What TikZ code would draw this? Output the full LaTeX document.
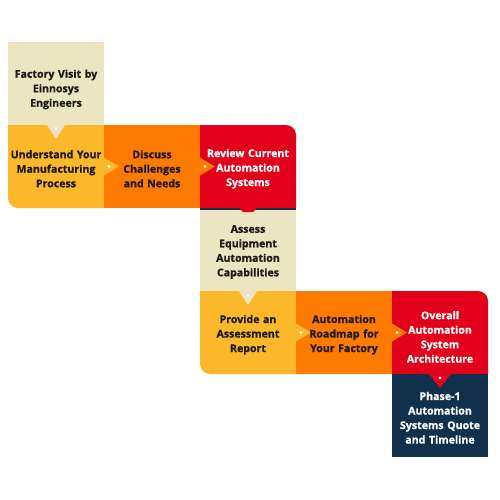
\documentclass[tikz,border=0pt]{standalone}
\usepackage{fontspec}
\setmainfont{Open Sans}[BoldFeatures={FakeBold=0.9}]
\usetikzlibrary{positioning,backgrounds,calc}

\definecolor{stepbeige}{HTML}{ECE5C1}
\definecolor{stepyellow}{HTML}{FBB82A}
\definecolor{steporange}{HTML}{FF7A00}
\definecolor{stepred}{HTML}{E3001B}
\definecolor{stepnavy}{HTML}{10304C}
\definecolor{inkdark}{HTML}{1E1A17}

\tikzset{
  sink/.style={execute at begin node={\rule{0pt}{#1}}},
  stage/.style={inner sep=0pt, outer sep=0pt, text width=95pt, align=center,
    minimum width=96pt, minimum height=83pt, text=inkdark,
    font=\fontsize{10.6}{14.5}\selectfont\bfseries, sink=12.6pt},
  lightstage/.style={stage, text=white},
}

\begin{document}
\begin{tikzpicture}[x=1pt,y=1pt,node distance=0pt]
  \useasboundingbox (0,0) rectangle (500,-500);

  \node[stage,sink=20pt] (visit) at (56,-83.5) {Factory Visit by\\Einnosys\\Engineers};
  \node[stage,below=of visit] (understand) {Understand Your\\Manufacturing\\Process};
  \node[stage,right=of understand] (discuss) {Discuss\\Challenges\\and Needs};
  \node[lightstage,right=of discuss] (review) {Review Current\\Automation\\Systems};
  \node[stage,below=of review] (assess) {Assess\\Equipment\\Automation\\Capabilities};
  \node[stage,below=of assess] (provide) {Provide an\\Assessment\\Report};
  \node[stage,right=of provide] (roadmap) {Automation\\Roadmap for\\Your Factory};
  \node[lightstage,sink=17pt,right=of roadmap] (architecture) {Overall\\Automation\\System\\Architecture};
  \node[lightstage,below=of architecture] (quote) {Phase-1\\Automation\\Systems Quote\\and Timeline};

  \begin{scope}[on background layer]
    % boxes
    \fill[stepbeige] (visit.north west) rectangle (visit.south east);
    \fill[stepyellow] (understand.north east) -- (understand.north west)
      [rounded corners=10pt] -- (understand.south west) [sharp corners]
      -- (understand.south east) -- cycle;
    \fill[steporange] (discuss.north west) rectangle (discuss.south east);
    \fill[stepred] (review.north west) -- (review.south west) -- (review.south east)
      [rounded corners=10pt] -- (review.north east) [sharp corners] -- cycle;
    \fill[stepbeige] (assess.north west) rectangle (assess.south east);
    \fill[stepnavy] (assess.north west) rectangle ($(assess.north east)+(0,-1.5)$);
    \fill[stepyellow] (provide.north east) -- (provide.north west)
      [rounded corners=10pt] -- (provide.south west) [sharp corners]
      -- (provide.south east) -- cycle;
    \fill[steporange] (roadmap.north west) rectangle (roadmap.south east);
    \fill[stepred] (architecture.north west) -- (architecture.south west)
      -- (architecture.south east) [rounded corners=10pt] -- (architecture.north east)
      [sharp corners] -- cycle;
    \fill[stepnavy] (quote.north west) rectangle (quote.south east);

    % tabs
    \fill[stepbeige] ($(visit.south)+(-9,0)$) -- ($(visit.south)+(9,0)$)
      -- ($(visit.south)+(0,-14)$) -- cycle;
    \fill[white] ($(visit.south)+(0,-4)$) circle (1.7);
    \fill[stepyellow] ($(understand.east)+(0,9)$) -- ($(understand.east)+(15,0)$)
      -- ($(understand.east)+(0,-9)$) -- cycle;
    \fill[white] ($(understand.east)+(5,0)$) circle (1.7);
    \fill[steporange] ($(discuss.east)+(0,9)$) -- ($(discuss.east)+(15,0)$)
      -- ($(discuss.east)+(0,-9)$) -- cycle;
    \fill[white] ($(discuss.east)+(5,0)$) circle (1.7);
    \fill[stepred] ($(review.south)+(-9,0)$) -- ($(review.south)+(9,0)$)
      -- ($(review.south)+(5,-4)$) -- ($(review.south)+(-5,-4)$) -- cycle;
    \fill[stepbeige] ($(assess.south)+(-9,0)$) -- ($(assess.south)+(9,0)$)
      -- ($(assess.south)+(0,-14)$) -- cycle;
    \fill[white] ($(assess.south)+(0,-4)$) circle (1.7);
    \fill[stepyellow] ($(provide.east)+(0,9)$) -- ($(provide.east)+(15,0)$)
      -- ($(provide.east)+(0,-9)$) -- cycle;
    \fill[white] ($(provide.east)+(5,0)$) circle (1.7);
    \fill[steporange] ($(roadmap.east)+(0,9)$) -- ($(roadmap.east)+(15,0)$)
      -- ($(roadmap.east)+(0,-9)$) -- cycle;
    \fill[white] ($(roadmap.east)+(5,0)$) circle (1.7);
    \fill[stepred] ($(architecture.south)+(-11,0)$) -- ($(architecture.south)+(11,0)$)
      -- ($(architecture.south)+(0,-14)$) -- cycle;
    \fill[white] ($(architecture.south)+(0,-4)$) circle (1.7);
  \end{scope}
\end{tikzpicture}
\end{document}
